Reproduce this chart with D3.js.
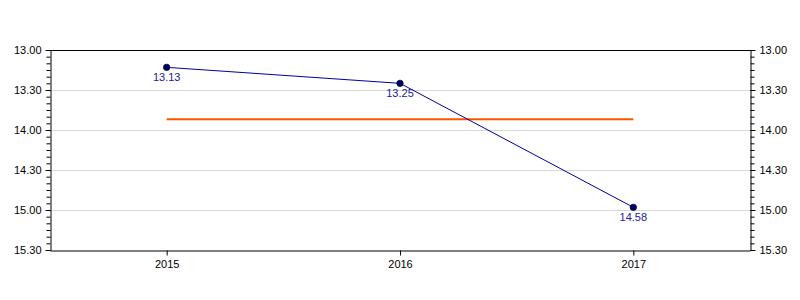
<!DOCTYPE html>
<html><head><meta charset="utf-8">
<script src="https://cdn.jsdelivr.net/npm/d3@7"></script>
<style>body{margin:0;background:#fff}svg{display:block}text{font-family:"Liberation Sans",Arial,sans-serif}</style>
</head><body><svg id="c" width="800" height="300"></svg>
<script>
const years = [2015, 2016, 2017];
const times = ["13.13", "13.25", "14.58"];
const yTicks = ["13.00", "13.30", "14.00", "14.30", "15.00", "15.30"];

const toSec = s => { const [m, ss] = s.split("."); return +m * 60 + +ss; };
const fmt = v => Math.floor(v / 60) + "." + String(Math.round(v % 60)).padStart(2, "0");
const secs = times.map(toSec);
const avg = d3.mean(secs);
const tickSecs = yTicks.map(toSec);

const svg = d3.select("#c");
const L = 50, R = 750, T = 50, B = 250;
const x = d3.scaleLinear().domain([years[0] - 0.5, years[years.length - 1] + 0.5]).range([L, R]);
const y = d3.scaleLinear().domain([tickSecs[0], tickSecs[tickSecs.length - 1]]).range([T, B]);

// gridlines
svg.append("g").selectAll("line").data(tickSecs.slice(1, -1)).join("line")
  .attr("x1", L).attr("x2", R).attr("y1", d => y(d) + 0.5).attr("y2", d => y(d) + 0.5)
  .attr("stroke", "#d8d8d8").attr("stroke-width", 1);

// minor ticks
const minor = d3.range(tickSecs[0], tickSecs[tickSecs.length - 1] + 0.1, 5);
const fmtAxis = d => fmt(d);
function styleAxis(g) {
  g.selectAll("path.domain").attr("stroke", "#000");
  g.selectAll(".tick line").attr("stroke", "#000");
  g.selectAll("text").attr("font-size", 11).attr("fill", "#000");
}
svg.append("g").attr("transform", `translate(${L + 0.5},0)`)
  .call(d3.axisLeft(y).tickValues(minor).tickSize(4).tickFormat(""))
  .call(g => g.select(".domain").remove()).call(styleAxis);
svg.append("g").attr("transform", `translate(${R + 0.5},0)`)
  .call(d3.axisRight(y).tickValues(minor).tickSize(4).tickFormat(""))
  .call(g => g.select(".domain").remove()).call(styleAxis);

svg.append("g").attr("transform", `translate(${L + 0.5},0)`)
  .call(d3.axisLeft(y).tickValues(tickSecs).tickSize(5).tickSizeOuter(0).tickPadding(4).tickFormat(fmtAxis))
  .call(styleAxis);
svg.append("g").attr("transform", `translate(${R + 0.5},0)`)
  .call(d3.axisRight(y).tickValues(tickSecs).tickSize(5).tickSizeOuter(0).tickPadding(4).tickFormat(fmtAxis))
  .call(styleAxis);

// top border
svg.append("line").attr("x1", L).attr("x2", R + 1).attr("y1", T + 0.5).attr("y2", T + 0.5).attr("stroke", "#000");

// x axis
svg.append("g").attr("transform", `translate(0,${B + 0.5})`)
  .call(d3.axisBottom(x).tickValues(years).tickFormat(d3.format("d")).tickSize(5).tickSizeOuter(0).tickPadding(5))
  .call(styleAxis);

// average line
svg.append("line").attr("x1", x(years[0])).attr("x2", x(years[years.length - 1]))
  .attr("y1", y(avg)).attr("y2", y(avg)).attr("stroke", "#ff5500").attr("stroke-width", 2);

// series
const pts = years.map((yr, i) => ({ yr, v: secs[i], label: times[i] }));
svg.append("path").datum(pts)
  .attr("d", d3.line().x(d => x(d.yr)).y(d => y(d.v)))
  .attr("fill", "none").attr("stroke", "#0000a0").attr("stroke-width", 1);
svg.append("g").selectAll("circle").data(pts).join("circle")
  .attr("cx", d => x(d.yr)).attr("cy", d => y(d.v)).attr("r", 3.2)
  .attr("fill", "#000066").attr("stroke", "#000033").attr("stroke-width", 0.8);
svg.append("g").selectAll("text").data(pts).join("text")
  .attr("x", d => x(d.yr)).attr("y", d => y(d.v) + 14).attr("text-anchor", "middle")
  .attr("font-size", 11).attr("fill", "#1a1aa0").text(d => d.label);
</script></body></html>
